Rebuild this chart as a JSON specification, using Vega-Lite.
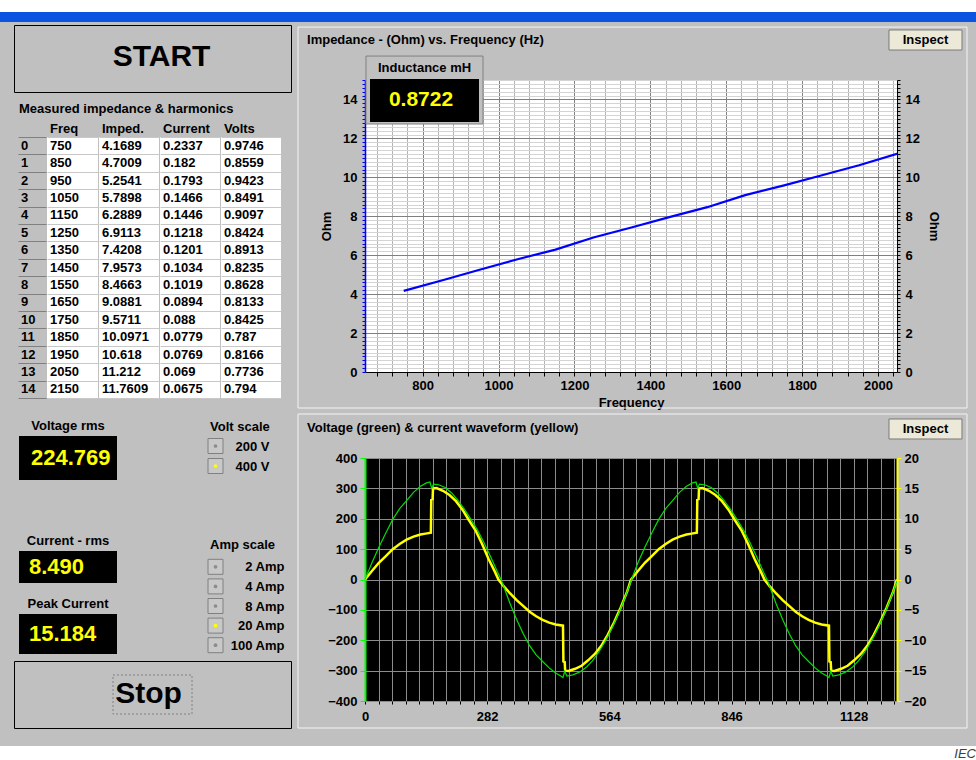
{
"$schema": "https://vega.github.io/schema/vega-lite/v6.json",
"background": "#c0c0c0",
"padding": 0,
"columns": 1,
"align": "none",
"spacing": 0,
"config": {
  "font": "Liberation Sans",
  "view": {"stroke": null},
  "concat": {"spacing": 0},
  "axis": {"labelFontWeight": "bold", "labelFontSize": 13, "labelColor": "#000000", "titleFontWeight": "bold", "titleFontSize": 13, "titleColor": "#000000"},
  "title": {"fontWeight": "bold", "fontSize": 13, "color": "#000000"},
  "text": {"fontWeight": "bold", "fontSize": 13, "color": "#000000"}
},
"datasets": {
  "harm": [
    {"i":0,"Freq":750,"Imped":4.1689,"Current":0.2337,"Volts":0.9746},
    {"i":1,"Freq":850,"Imped":4.7009,"Current":0.182,"Volts":0.8559},
    {"i":2,"Freq":950,"Imped":5.2541,"Current":0.1793,"Volts":0.9423},
    {"i":3,"Freq":1050,"Imped":5.7898,"Current":0.1466,"Volts":0.8491},
    {"i":4,"Freq":1150,"Imped":6.2889,"Current":0.1446,"Volts":0.9097},
    {"i":5,"Freq":1250,"Imped":6.9113,"Current":0.1218,"Volts":0.8424},
    {"i":6,"Freq":1350,"Imped":7.4208,"Current":0.1201,"Volts":0.8913},
    {"i":7,"Freq":1450,"Imped":7.9573,"Current":0.1034,"Volts":0.8235},
    {"i":8,"Freq":1550,"Imped":8.4663,"Current":0.1019,"Volts":0.8628},
    {"i":9,"Freq":1650,"Imped":9.0881,"Current":0.0894,"Volts":0.8133},
    {"i":10,"Freq":1750,"Imped":9.5711,"Current":0.088,"Volts":0.8425},
    {"i":11,"Freq":1850,"Imped":10.0971,"Current":0.0779,"Volts":0.787},
    {"i":12,"Freq":1950,"Imped":10.618,"Current":0.0769,"Volts":0.8166},
    {"i":13,"Freq":2050,"Imped":11.212,"Current":0.069,"Volts":0.7736},
    {"i":14,"Freq":2150,"Imped":11.7609,"Current":0.0675,"Volts":0.794}
  ],
  "volt": [
    {"s":0,"v":0},{"s":16,"v":55},{"s":32,"v":106},{"s":48,"v":153},{"s":64,"v":198},{"s":80,"v":233},{"s":96,"v":260},{"s":112,"v":287},{"s":128,"v":307},{"s":142,"v":318},{"s":150,"v":321},{"s":154,"v":300},{"s":158,"v":314},{"s":170,"v":312},{"s":185,"v":303},{"s":200,"v":285},{"s":215,"v":260},{"s":230,"v":230},{"s":245,"v":197},{"s":260,"v":162},{"s":275,"v":120},{"s":290,"v":75},{"s":305,"v":27},{"s":315,"v":-3},{"s":320,"v":-22},{"s":335,"v":-80},{"s":350,"v":-132},{"s":365,"v":-178},{"s":380,"v":-218},{"s":395,"v":-248},{"s":410,"v":-270},{"s":425,"v":-291},{"s":440,"v":-308},{"s":452,"v":-318},{"s":457,"v":-323},{"s":461,"v":-302},{"s":466,"v":-318},{"s":480,"v":-314},{"s":495,"v":-305},{"s":510,"v":-290},{"s":525,"v":-268},{"s":540,"v":-238},{"s":555,"v":-202},{"s":570,"v":-160},{"s":585,"v":-113},{"s":600,"v":-60},{"s":614,"v":-5},
    {"s":630,"v":55},{"s":646,"v":106},{"s":662,"v":153},{"s":678,"v":198},{"s":694,"v":233},{"s":710,"v":260},{"s":726,"v":287},{"s":742,"v":307},{"s":756,"v":318},{"s":764,"v":321},{"s":768,"v":300},{"s":772,"v":314},{"s":784,"v":312},{"s":799,"v":303},{"s":814,"v":285},{"s":829,"v":260},{"s":844,"v":230},{"s":859,"v":197},{"s":874,"v":162},{"s":889,"v":120},{"s":904,"v":75},{"s":919,"v":27},{"s":929,"v":-3},{"s":934,"v":-22},{"s":949,"v":-80},{"s":964,"v":-132},{"s":979,"v":-178},{"s":994,"v":-218},{"s":1009,"v":-248},{"s":1024,"v":-270},{"s":1039,"v":-291},{"s":1054,"v":-308},{"s":1066,"v":-318},{"s":1071,"v":-323},{"s":1075,"v":-302},{"s":1080,"v":-318},{"s":1094,"v":-314},{"s":1109,"v":-305},{"s":1124,"v":-290},{"s":1139,"v":-268},{"s":1154,"v":-238},{"s":1169,"v":-202},{"s":1184,"v":-160},{"s":1199,"v":-113},{"s":1214,"v":-60},{"s":1228,"v":-5}
  ],
  "amp": [
    {"s":0,"a":0},{"s":16,"a":1.4},{"s":32,"a":2.75},{"s":48,"a":3.85},{"s":64,"a":5.0},{"s":80,"a":5.85},{"s":96,"a":6.55},{"s":112,"a":7.05},{"s":128,"a":7.4},{"s":140,"a":7.55},{"s":152,"a":7.7},{"s":153,"a":13.1},{"s":156,"a":13.2},{"s":157,"a":15.0},{"s":165,"a":15.05},{"s":180,"a":14.6},{"s":195,"a":13.9},{"s":210,"a":12.9},{"s":225,"a":11.5},{"s":240,"a":9.75},{"s":255,"a":8.1},{"s":270,"a":5.9},{"s":285,"a":3.4},{"s":300,"a":1.25},{"s":308,"a":0},{"s":320,"a":-1.1},{"s":335,"a":-2.3},{"s":350,"a":-3.4},{"s":365,"a":-4.35},{"s":380,"a":-5.3},{"s":395,"a":-6.05},{"s":410,"a":-6.65},{"s":425,"a":-7.1},{"s":440,"a":-7.4},{"s":457,"a":-7.6},{"s":458,"a":-13.5},{"s":461,"a":-13.6},{"s":462,"a":-15.0},{"s":470,"a":-15.05},{"s":485,"a":-14.7},{"s":500,"a":-14.2},{"s":515,"a":-13.3},{"s":530,"a":-12.3},{"s":545,"a":-10.95},{"s":560,"a":-9.15},{"s":575,"a":-7.05},{"s":590,"a":-4.65},{"s":605,"a":-2.0},{"s":614,"a":0},
    {"s":630,"a":1.4},{"s":646,"a":2.75},{"s":662,"a":3.85},{"s":678,"a":5.0},{"s":694,"a":5.85},{"s":710,"a":6.55},{"s":726,"a":7.05},{"s":742,"a":7.4},{"s":754,"a":7.55},{"s":766,"a":7.7},{"s":767,"a":13.1},{"s":770,"a":13.2},{"s":771,"a":15.0},{"s":779,"a":15.05},{"s":794,"a":14.6},{"s":809,"a":13.9},{"s":824,"a":12.9},{"s":839,"a":11.5},{"s":854,"a":9.75},{"s":869,"a":8.1},{"s":884,"a":5.9},{"s":899,"a":3.4},{"s":914,"a":1.25},{"s":922,"a":0},{"s":934,"a":-1.1},{"s":949,"a":-2.3},{"s":964,"a":-3.4},{"s":979,"a":-4.35},{"s":994,"a":-5.3},{"s":1009,"a":-6.05},{"s":1024,"a":-6.65},{"s":1039,"a":-7.1},{"s":1054,"a":-7.4},{"s":1071,"a":-7.6},{"s":1072,"a":-13.5},{"s":1075,"a":-13.6},{"s":1076,"a":-15.0},{"s":1084,"a":-15.05},{"s":1099,"a":-14.7},{"s":1114,"a":-14.2},{"s":1129,"a":-13.3},{"s":1144,"a":-12.3},{"s":1159,"a":-10.95},{"s":1174,"a":-9.15},{"s":1189,"a":-7.05},{"s":1204,"a":-4.65},{"s":1219,"a":-2.0},{"s":1228,"a":0}
  ]
},
"concat": [
  {"width": 976, "height": 12, "view": {"fill": "#ffffff"}, "data": {"values": [{}]}, "mark": {"type": "rect", "opacity": 0}, "encoding": {}},
  {"width": 976, "height": 10, "view": {"fill": "#0a54e0"}, "data": {"values": [{}]}, "mark": {"type": "rect", "opacity": 0}, "encoding": {}},
  {"align": "none", "spacing": 0, "concat": [
    {"width": 13, "height": 1, "data": {"values": [{}]}, "mark": {"type": "rect", "opacity": 0}, "encoding": {}},
    {"align": "none", "columns": 1, "spacing": 1, "concat": [
      {"width": 1, "height": 1, "data": {"values": [{}]}, "mark": {"type": "rect", "opacity": 0}, "encoding": {}},
      {"align": "none", "columns": 1, "spacing": 10, "concat": [
        {"width": 277, "height": 67, "view": {"fill": "#c0c0c0", "stroke": "#000000", "strokeWidth": 1},
         "data": {"values": [{"label": "START"}]},
         "mark": {"type": "text", "fontSize": 30, "baseline": "middle", "dx": 9, "dy": -2},
         "encoding": {"text": {"field": "label", "type": "nominal"}}},
        {"align": "none", "columns": 1, "spacing": 22, "concat": [
          {"align": "none", "spacing": 1,
           "title": {"text": "Measured impedance & harmonics", "anchor": "start", "dx": 5, "offset": 7},
           "concat": [
            {"width": 3, "height": 1, "data": {"values": [{}]}, "mark": {"type": "rect", "opacity": 0}, "encoding": {}},
            {"width": 28, "height": 261, "data": {"name": "harm"},
             "mark": {"type": "text", "align": "left", "dx": -11, "baseline": "middle"},
             "encoding": {"y": {"field": "i", "type": "ordinal", "scale": {"paddingInner": 0, "paddingOuter": 0}, "axis": {"title": null, "labels": false, "ticks": false, "domain": false, "grid": true, "tickBand": "extent", "gridColor": "#808080"}},
                          "text": {"field": "i", "type": "nominal"}}},
            {"width": 51, "height": 261, "view": {"fill": "#ffffff"}, "title": {"text": "Freq", "anchor": "start", "dx": 3, "offset": 1}, "data": {"name": "harm"},
             "mark": {"type": "text", "align": "left", "dx": -22.5, "baseline": "middle"},
             "encoding": {"y": {"field": "i", "type": "ordinal", "scale": {"paddingInner": 0, "paddingOuter": 0}, "axis": {"title": null, "labels": false, "ticks": false, "domain": false, "grid": true, "tickBand": "extent", "gridColor": "#c8c8c8"}},
                          "text": {"field": "Freq", "type": "nominal"}}},
            {"width": 60, "height": 261, "view": {"fill": "#ffffff"}, "title": {"text": "Imped.", "anchor": "start", "dx": 3, "offset": 1}, "data": {"name": "harm"},
             "mark": {"type": "text", "align": "left", "dx": -27, "baseline": "middle"},
             "encoding": {"y": {"field": "i", "type": "ordinal", "scale": {"paddingInner": 0, "paddingOuter": 0}, "axis": {"title": null, "labels": false, "ticks": false, "domain": false, "grid": true, "tickBand": "extent", "gridColor": "#c8c8c8"}},
                          "text": {"field": "Imped", "type": "nominal"}}},
            {"width": 60, "height": 261, "view": {"fill": "#ffffff"}, "title": {"text": "Current", "anchor": "start", "dx": 3, "offset": 1}, "data": {"name": "harm"},
             "mark": {"type": "text", "align": "left", "dx": -27, "baseline": "middle"},
             "encoding": {"y": {"field": "i", "type": "ordinal", "scale": {"paddingInner": 0, "paddingOuter": 0}, "axis": {"title": null, "labels": false, "ticks": false, "domain": false, "grid": true, "tickBand": "extent", "gridColor": "#c8c8c8"}},
                          "text": {"field": "Current", "type": "nominal"}}},
            {"width": 60, "height": 261, "view": {"fill": "#ffffff"}, "title": {"text": "Volts", "anchor": "start", "dx": 3, "offset": 1}, "data": {"name": "harm"},
             "mark": {"type": "text", "align": "left", "dx": -27, "baseline": "middle"},
             "encoding": {"y": {"field": "i", "type": "ordinal", "scale": {"paddingInner": 0, "paddingOuter": 0}, "axis": {"title": null, "labels": false, "ticks": false, "domain": false, "grid": true, "tickBand": "extent", "gridColor": "#c8c8c8"}},
                          "text": {"field": "Volts", "type": "nominal"}}}
           ]},
          {"align": "none", "columns": 1, "spacing": 5, "concat": [
            {"align": "none", "spacing": 0, "concat": [
              {"width": 5, "height": 1, "data": {"values": [{}]}, "mark": {"type": "rect", "opacity": 0}, "encoding": {}},
              {"align": "none", "columns": 1, "spacing": 55, "concat": [
                {"width": 98, "height": 44, "view": {"fill": "#000000"}, "title": {"text": "Voltage rms", "offset": 3},
                 "data": {"values": [{"reading": "224.769"}]},
                 "mark": {"type": "text", "color": "#ffff00", "fontSize": 22, "align": "left", "dx": -37, "baseline": "middle"},
                 "encoding": {"text": {"field": "reading", "type": "nominal"}}},
                {"align": "none", "columns": 1, "spacing": 15, "concat": [
                  {"width": 98, "height": 32, "view": {"fill": "#000000"}, "title": {"text": "Current - rms", "offset": 3},
                   "data": {"values": [{"reading": "8.490"}]},
                   "mark": {"type": "text", "color": "#ffff00", "fontSize": 22, "align": "left", "dx": -39, "baseline": "middle"},
                   "encoding": {"text": {"field": "reading", "type": "nominal"}}},
                  {"width": 98, "height": 40, "view": {"fill": "#000000"}, "title": {"text": "Peak Current", "offset": 3},
                   "data": {"values": [{"reading": "15.184"}]},
                   "mark": {"type": "text", "color": "#ffff00", "fontSize": 22, "align": "left", "dx": -39, "baseline": "middle"},
                   "encoding": {"text": {"field": "reading", "type": "nominal"}}}
                ]}
              ]},
              {"width": 89, "height": 1, "data": {"values": [{}]}, "mark": {"type": "rect", "opacity": 0}, "encoding": {}},
              {"align": "none", "columns": 1, "spacing": 63, "concat": [
                {"width": 17, "height": 40,
                 "title": {"text": "Volt scale", "anchor": "start", "frame": "bounds", "dx": 4, "offset": 2},
                 "data": {"values": [{"opt": "200 V", "sel": "no"}, {"opt": "400 V", "sel": "yes"}]},
                 "encoding": {"y": {"field": "opt", "type": "nominal", "sort": null, "scale": {"paddingInner": 0, "paddingOuter": 0},
                   "axis": {"orient": "right", "title": null, "ticks": false, "domain": false, "labelPadding": 11}}},
                 "layer": [
                   {"mark": {"type": "point", "shape": "square", "size": 225, "filled": true, "color": "#c8c8c8", "stroke": "#808080", "strokeWidth": 1, "opacity": 1}},
                   {"mark": {"type": "point", "shape": "circle", "size": 14, "filled": true, "opacity": 1},
                    "encoding": {"color": {"field": "sel", "type": "nominal", "scale": {"domain": ["no", "yes"], "range": ["#8c8c8c", "#ffff00"]}, "legend": null}}}
                 ]},
                {"width": 17, "height": 98,
                 "title": {"text": "Amp scale", "anchor": "start", "frame": "bounds", "dx": 4, "offset": 5},
                 "data": {"values": [{"opt": "2 Amp", "sel": "no"}, {"opt": "4 Amp", "sel": "no"}, {"opt": "8 Amp", "sel": "no"}, {"opt": "20 Amp", "sel": "yes"}, {"opt": "100 Amp", "sel": "no"}]},
                 "encoding": {"y": {"field": "opt", "type": "nominal", "sort": null, "scale": {"paddingInner": 0, "paddingOuter": 0},
                   "axis": {"orient": "right", "title": null, "ticks": false, "domain": false, "labelAlign": "right", "labelPadding": 60}}},
                 "layer": [
                   {"mark": {"type": "point", "shape": "square", "size": 225, "filled": true, "color": "#c8c8c8", "stroke": "#808080", "strokeWidth": 1, "opacity": 1}},
                   {"mark": {"type": "point", "shape": "circle", "size": 14, "filled": true, "opacity": 1},
                    "encoding": {"color": {"field": "sel", "type": "nominal", "scale": {"domain": ["no", "yes"], "range": ["#8c8c8c", "#ffff00"]}, "legend": null}}}
                 ]}
              ]}
            ]},
            {"width": 277, "height": 67, "view": {"fill": "#c0c0c0", "stroke": "#000000", "strokeWidth": 1},
             "data": {"values": [{"label": "Stop"}]},
             "layer": [
               {"mark": {"type": "point", "shape": "M-1,-0.4937H1V0.4937H-1Z", "size": 6241, "filled": false, "color": "#808080", "strokeDash": [2, 2], "strokeWidth": 1, "opacity": 1}, "encoding": {}},
               {"mark": {"type": "text", "fontSize": 30, "baseline": "middle", "dx": -4, "dy": -1}, "encoding": {"text": {"field": "label", "type": "nominal"}}}
             ]}
          ]}
        ]}
      ]}
    ]},
    {"width": 5, "height": 1, "data": {"values": [{}]}, "mark": {"type": "rect", "opacity": 0}, "encoding": {}},
    {"align": "none", "columns": 1, "spacing": 3, "concat": [
      {"width": 1, "height": 1, "data": {"values": [{}]}, "mark": {"type": "rect", "opacity": 0}, "encoding": {}},
      {"align": "none", "columns": 1, "spacing": 4, "concat": [
        {"width": 532, "height": 292,
         "view": {"fill": "#ffffff"},
         "resolve": {"axis": {"x": "independent", "y": "independent"}},
         "layer": [
           {"data": {"name": "harm"},
            "mark": {"type": "line", "color": "#0000ff", "strokeWidth": 2.2, "clip": true},
            "encoding": {
              "x": {"field": "Freq", "type": "quantitative", "scale": {"domain": [648, 2050], "nice": false, "zero": false},
                    "axis": {"format": "d", "tickCount": 1000, "values": [680,720,760,800,840,880,920,960,1000,1040,1080,1120,1160,1200,1240,1280,1320,1360,1400,1440,1480,1520,1560,1600,1640,1680,1720,1760,1800,1840,1880,1920,1960,2000,2040],
                             "labelExpr": "datum.value % 200 == 0 ? datum.label : ''", "labelOverlap": false, "labelFlush": false,
                             "grid": true, "gridColor": {"condition": {"test": "datum.value % 200 == 0", "value": "#808080"}, "value": "#b4b4b4"},
                             "tickColor": "#000000", "tickSize": 4, "domainColor": "#000000", "labelPadding": 3, "title": "Frequency", "titlePadding": 4}},
              "y": {"field": "Imped", "type": "quantitative", "scale": {"domain": [0, 15], "nice": false, "zero": false},
                    "axis": {"orient": "left", "tickCount": 1000, "values": [0,0.2,0.4,0.6,0.8,1,1.2,1.4,1.6,1.8,2,2.2,2.4,2.6,2.8,3,3.2,3.4,3.6,3.8,4,4.2,4.4,4.6,4.8,5,5.2,5.4,5.6,5.8,6,6.2,6.4,6.6,6.8,7,7.2,7.4,7.6,7.8,8,8.2,8.4,8.6,8.8,9,9.2,9.4,9.6,9.8,10,10.2,10.4,10.6,10.8,11,11.2,11.4,11.6,11.8,12,12.2,12.4,12.6,12.8,13,13.2,13.4,13.6,13.8,14,14.2,14.4,14.6,14.8,15],
                             "labelExpr": "datum.value % 2 == 0 ? format(datum.value, 'd') : ''", "labelOverlap": false,
                             "grid": true, "gridColor": {"condition": {"test": "datum.value % 2 == 0", "value": "#808080"}, "value": "#d4d4d4"},
                             "domainColor": "#0000ff", "domainWidth": 1.5, "tickColor": "#0000ff", "tickSize": 3, "labelPadding": 5, "title": "Ohm", "titlePadding": 9}}
            }},
           {"data": {"values": [{}]},
            "mark": {"type": "rect", "filled": false, "color": "#f4f4f4", "strokeWidth": 1},
            "encoding": {
              "x": {"datum": 471.4, "type": "quantitative", "axis": null}, "x2": {"datum": 2234.5},
              "y": {"datum": 17.72, "type": "quantitative",
                    "axis": {"orient": "right", "tickCount": 1000, "values": [0,0.2,0.4,0.6,0.8,1,1.2,1.4,1.6,1.8,2,2.2,2.4,2.6,2.8,3,3.2,3.4,3.6,3.8,4,4.2,4.4,4.6,4.8,5,5.2,5.4,5.6,5.8,6,6.2,6.4,6.6,6.8,7,7.2,7.4,7.6,7.8,8,8.2,8.4,8.6,8.8,9,9.2,9.4,9.6,9.8,10,10.2,10.4,10.6,10.8,11,11.2,11.4,11.6,11.8,12,12.2,12.4,12.6,12.8,13,13.2,13.4,13.6,13.8,14,14.2,14.4,14.6,14.8,15],
                             "labelExpr": "datum.value % 2 == 0 ? format(datum.value, 'd') : ''", "labelOverlap": false, "grid": false,
                             "domainColor": "#000000", "tickColor": "#000000", "tickSize": 3, "labelPadding": 5, "title": "Ohm", "titlePadding": 7}},
              "y2": {"datum": -1.85}
            }},
           {"data": {"values": [{}]},
            "mark": {"type": "text", "align": "left", "baseline": "middle", "fontSize": 13},
            "encoding": {"x": {"datum": 495.2, "type": "quantitative", "axis": null}, "y": {"datum": 17.05, "type": "quantitative", "axis": null}, "text": {"value": "Impedance - (Ohm) vs. Frequency (Hz)"}}},
           {"data": {"values": [{}]},
            "mark": {"type": "rect", "fill": "#ece9d8", "stroke": "#7a7a7a", "strokeWidth": 1},
            "encoding": {"x": {"datum": 2028.9, "type": "quantitative", "axis": null}, "x2": {"datum": 2221.3}, "y": {"datum": 17.57, "type": "quantitative", "axis": null}, "y2": {"datum": 16.54}}},
           {"data": {"values": [{}]},
            "mark": {"type": "text", "align": "center", "baseline": "middle", "fontSize": 13},
            "encoding": {"x": {"datum": 2125.1, "type": "quantitative", "axis": null}, "y": {"datum": 17.03, "type": "quantitative", "axis": null}, "text": {"value": "Inspect"}}},
           {"data": {"values": [{}]},
            "mark": {"type": "rect", "fill": "#c0c0c0", "stroke": "#808080", "strokeWidth": 1},
            "encoding": {"x": {"datum": 650.6, "type": "quantitative", "axis": null}, "x2": {"datum": 959.0}, "y": {"datum": 16.23, "type": "quantitative", "axis": null}, "y2": {"datum": 12.74}}},
           {"data": {"values": [{}]},
            "mark": {"type": "rect", "fill": "#000000"},
            "encoding": {"x": {"datum": 661.2, "type": "quantitative", "axis": null}, "x2": {"datum": 948.4}, "y": {"datum": 15.05, "type": "quantitative", "axis": null}, "y2": {"datum": 12.84}}},
           {"data": {"values": [{}]},
            "mark": {"type": "text", "align": "center", "baseline": "middle", "fontSize": 13},
            "encoding": {"x": {"datum": 804.8, "type": "quantitative", "axis": null}, "y": {"datum": 15.62, "type": "quantitative", "axis": null}, "text": {"value": "Inductance mH"}}},
           {"data": {"values": [{"reading": "0.8722"}]},
            "mark": {"type": "text", "align": "center", "baseline": "middle", "fontSize": 21, "color": "#ffff00"},
            "encoding": {"x": {"datum": 795.6, "type": "quantitative", "axis": null}, "y": {"datum": 13.95, "type": "quantitative", "axis": null}, "text": {"field": "reading", "type": "nominal"}}}
         ]},
        {"width": 532, "height": 243,
         "view": {"fill": "#000000"},
         "resolve": {"scale": {"y": "independent"}, "axis": {"x": "independent", "y": "independent"}},
         "layer": [
           {"data": {"name": "amp"},
            "mark": {"type": "line", "color": "#ffff00", "strokeWidth": 2.5, "clip": true},
            "encoding": {
              "x": {"field": "s", "type": "quantitative", "scale": {"domain": [0, 1228], "nice": false, "zero": false}, "axis": null},
              "y": {"field": "a", "type": "quantitative", "scale": {"domain": [-20, 20], "nice": false, "zero": false},
                    "axis": {"orient": "right", "format": "d", "tickCount": 1000, "values": [-20,-15,-10,-5,0,5,10,15,20], "title": null, "grid": false, "domainColor": "#ffff00", "domainWidth": 2, "tickColor": "#ffff00", "tickSize": 4, "labelPadding": 3, "labelOverlap": false}}
            }},
           {"resolve": {"axis": {"x": "independent", "y": "independent"}},
            "layer": [
             {"data": {"values": [{}]},
              "mark": {"type": "rect", "filled": false, "color": "#f4f4f4", "strokeWidth": 1},
              "encoding": {"x": {"datum": -154.65, "type": "quantitative", "axis": null}, "x2": {"datum": 1389.6}, "y": {"datum": 544.86, "type": "quantitative", "axis": null}, "y2": {"datum": -488.9}}},
             {"data": {"values": [{}]},
              "mark": {"type": "text", "align": "left", "baseline": "middle", "fontSize": 13},
              "encoding": {"x": {"datum": -133.9, "type": "quantitative", "axis": null}, "y": {"datum": 498.8, "type": "quantitative", "axis": null}, "text": {"value": "Voltage (green) & current waveform (yellow)"}}},
             {"data": {"values": [{}]},
              "mark": {"type": "rect", "fill": "#ece9d8", "stroke": "#7a7a7a", "strokeWidth": 1},
              "encoding": {"x": {"datum": 1209.5, "type": "quantitative", "axis": null}, "x2": {"datum": 1378.0}, "y": {"datum": 528.4, "type": "quantitative", "axis": null}, "y2": {"datum": 462.6}}},
             {"data": {"values": [{}]},
              "mark": {"type": "text", "align": "center", "baseline": "middle", "fontSize": 13},
              "encoding": {"x": {"datum": 1293.8, "type": "quantitative", "axis": null}, "y": {"datum": 495.5, "type": "quantitative", "axis": null}, "text": {"value": "Inspect"}}},
             {"data": {"name": "volt"},
              "mark": {"type": "line", "color": "#00e000", "strokeWidth": 1.2, "clip": true},
              "encoding": {
                "x": {"field": "s", "type": "quantitative", "scale": {"domain": [0, 1228], "nice": false, "zero": false},
                      "axis": {"format": "d", "tickCount": 1000, "values": [0,31.333,62.667,94,125.333,156.667,188,219.333,250.667,282,313.333,344.667,376,407.333,438.667,470,501.333,532.667,564,595.333,626.667,658,689.333,720.667,752,783.333,814.667,846,877.333,908.667,940,971.333,1002.667,1034,1065.333,1096.667,1128,1159.333,1190.667,1222],
                               "labelExpr": "datum.value % 282 == 0 ? datum.label : ''", "labelOverlap": false, "labelFlush": false,
                               "grid": true, "gridColor": "#8c8c8c", "tickColor": "#000000", "tickSize": 3, "domain": false, "labelPadding": 6, "title": null}},
                "y": {"field": "v", "type": "quantitative", "scale": {"domain": [-400, 400], "nice": false, "zero": false},
                      "axis": {"orient": "left", "tickCount": 1000, "values": [-400,-300,-200,-100,0,100,200,300,400], "title": null, "grid": true, "gridColor": "#8c8c8c", "domainColor": "#00ff00", "domainWidth": 2, "tickColor": "#00ff00", "tickSize": 5, "labelPadding": 3, "labelOverlap": false}}
              }}
           ]}
         ]}
      ]}
    ]}
  ]},
  {"width": 976, "height": 17, "data": {"values": [{}]}, "mark": {"type": "rect", "opacity": 0}, "encoding": {}},
  {"width": 976, "height": 15, "view": {"fill": "#ffffff"}, "data": {"values": [{}]},
   "mark": {"type": "text", "align": "right", "baseline": "middle", "fontStyle": "italic", "fontWeight": "normal", "color": "#404040", "fontSize": 13},
   "encoding": {"x": {"value": "width"}, "text": {"value": "IEC"}}}
]
}
